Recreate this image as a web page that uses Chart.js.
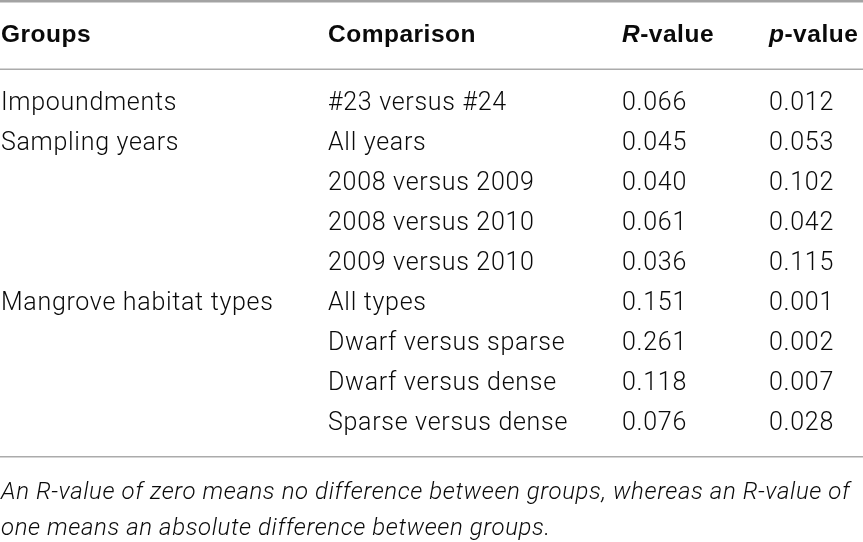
<!DOCTYPE html>
<html>
<head>
<meta charset="utf-8">
<script src="https://cdn.jsdelivr.net/npm/chart.js@4.4.1/dist/chart.umd.min.js"></script>
<style>
  html, body { margin: 0; padding: 0; background: #ffffff; }
  #wrap { width: 863px; height: 542px; }
</style>
</head>
<body>
<div id="wrap"><canvas id="c" width="863" height="542"></canvas></div>
<script>
// ---- data ----
const headers = ['Groups', 'Comparison', 'R-value', 'p-value'];
const groups = ['Impoundments', 'Sampling years', '', '', '', 'Mangrove habitat types', '', '', ''];
const comparisons = ['#23 versus #24', 'All years', '2008 versus 2009', '2008 versus 2010', '2009 versus 2010',
  'All types', 'Dwarf versus sparse', 'Dwarf versus dense', 'Sparse versus dense'];
const rValues = [0.066, 0.045, 0.040, 0.061, 0.036, 0.151, 0.261, 0.118, 0.076];
const pValues = [0.012, 0.053, 0.102, 0.042, 0.115, 0.001, 0.002, 0.007, 0.028];
const footnote = [
  'An R-value of zero means no difference between groups, whereas an R-value of',
  'one means an absolute difference between groups.'
];

// ---- layout (row units on y, pixels on x) ----
const colX = [1, 328, 622, 769];
const headerRow = -1.695;
const footRows = [9.74, 10.64];
const rules = [
  { y: -2.7075, w: 2.5, c: '#a3a3a3' },
  { y: -1.005, w: 1.6, c: '#ababab' },
  { y: 8.68, w: 1.6, c: '#ababab' }
];

const bodyFont = '300 25px Roboto';
const boldFont = 'bold 24.5px "Liberation Sans"';
const boldItalic = 'italic bold 24.5px "Liberation Sans"';
const footFont = 'italic 300 24px Roboto';

const rowIdx = comparisons.map((_, i) => i);
const cols = [
  groups,
  comparisons,
  rValues.map(v => v.toFixed(3)),
  pValues.map(v => v.toFixed(3))
];

const datasets = cols.map((col, ci) => ({
  label: headers[ci],
  data: rowIdx.map(i => ({ x: colX[ci], y: i })),
  texts: col,
  pointRadius: 0,
  showLine: false
}));

const tablePlugin = {
  id: 'tableText',
  afterDatasetsDraw(chart) {
    const ctx = chart.ctx;
    const xs = chart.scales.x, ys = chart.scales.y;
    ctx.save();
    // rules
    rules.forEach(r => {
      const py = ys.getPixelForValue(r.y);
      ctx.strokeStyle = r.c;
      ctx.lineWidth = r.w;
      ctx.beginPath();
      ctx.moveTo(xs.getPixelForValue(0), py);
      ctx.lineTo(xs.getPixelForValue(863), py);
      ctx.stroke();
    });
    ctx.fillStyle = '#0a0a0a';
    ctx.textBaseline = 'alphabetic';
    ctx.textAlign = 'left';
    // header
    const hy = ys.getPixelForValue(headerRow);
    headers.forEach((h, ci) => {
      let px = xs.getPixelForValue(colX[ci]);
      ctx.letterSpacing = '0.5px';
      if (h.endsWith('-value')) {
        const first = h.slice(0, 1);
        ctx.font = boldItalic;
        ctx.fillText(first, px, hy);
        px += ctx.measureText(first).width;
        ctx.font = boldFont;
        ctx.fillText(h.slice(1), px, hy);
      } else {
        ctx.font = boldFont;
        ctx.fillText(h, px, hy);
      }
    });
    // body cells
    ctx.font = bodyFont;
    ctx.letterSpacing = '0.7px';
    chart.data.datasets.forEach((ds, di) => {
      const meta = chart.getDatasetMeta(di);
      meta.data.forEach((el, i) => {
        const t = ds.texts[i];
        if (t) ctx.fillText(t, el.x, el.y);
      });
    });
    // footnote
    ctx.font = footFont;
    ctx.letterSpacing = '0.6px';
    footnote.forEach((line, i) => {
      ctx.fillText(line, xs.getPixelForValue(colX[0]), ys.getPixelForValue(footRows[i]));
    });
    ctx.restore();
  }
};

new Chart(document.getElementById('c'), {
  type: 'scatter',
  data: { datasets },
  options: {
    responsive: false,
    maintainAspectRatio: false,
    animation: false,
    devicePixelRatio: 1,
    layout: { padding: 0 },
    plugins: { legend: { display: false }, tooltip: { enabled: false } },
    scales: {
      x: { type: 'linear', display: false, min: 0, max: 863 },
      y: { type: 'linear', display: false, reverse: true, min: -2.7375, max: 10.8125 }
    }
  },
  plugins: [tablePlugin]
});
</script>
</body>
</html>
